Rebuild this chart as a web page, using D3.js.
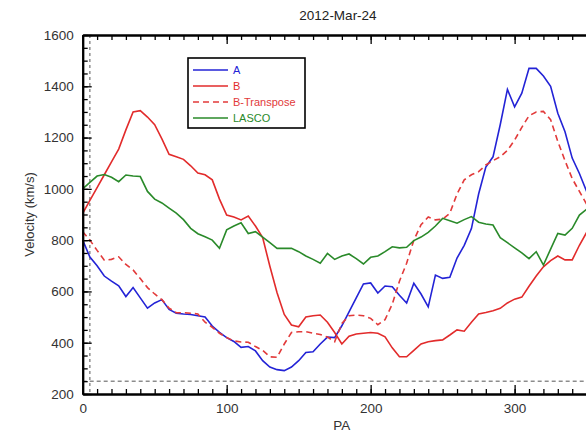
<!DOCTYPE html>
<html>
<head>
<meta charset="utf-8">
<script src="https://cdn.jsdelivr.net/npm/d3@7"></script>
<style>
body { margin: 0; background: #fff; }
svg { font-family: "Liberation Sans", Arial, sans-serif; }
</style>
</head>
<body>
<div id="chart"></div>
<script>
var _width = 586;
var _height = 435;

var title = "2012-Mar-24";
var pa = d3.range(0, 361, 5);

var seriesA = [800, 734, 700, 660, 640, 622, 580, 615, 575, 535, 555, 568, 530, 515, 512, 510, 505, 500, 465, 440,
    420, 405, 382, 385, 368, 330, 305, 295, 291, 305, 330, 362, 365, 395, 422, 420, 466, 520, 575, 629,
    633, 594, 621, 618, 585, 555, 632, 590, 540, 664, 651, 655, 730, 780, 845, 980, 1085, 1125, 1250, 1388,
    1320, 1373, 1470, 1470, 1440, 1400, 1295, 1223, 1120, 1060, 990, 950, 900];
var seriesB = [904, 955, 1005, 1055, 1105, 1155, 1230, 1300, 1305, 1280, 1250, 1195, 1135, 1125, 1115, 1090, 1062, 1055, 1035, 960,
    898, 890, 879, 894, 855, 810, 698, 595, 510, 469, 462, 500, 505, 508, 480, 440, 395, 425, 434, 437,
    440, 437, 423, 380, 345, 345, 370, 395, 404, 408, 411, 430, 450, 445, 480, 512, 518, 525, 534, 555,
    570, 578, 620, 660, 696, 720, 738, 723, 723, 780, 830, 880, 920];
var seriesBT = [833, 800, 760, 722, 725, 735, 705, 684, 650, 615, 590, 568, 535, 517, 517, 515, 512, 480, 460, 437,
    420, 407, 403, 402, 385, 370, 345, 343, 395, 440, 443, 443, 437, 432, 422, 404, 475, 505, 508, 505,
    495, 470, 490, 550, 640, 710, 800, 860, 890, 879, 882, 905, 980, 1035, 1055, 1067, 1093, 1110, 1125, 1150,
    1190, 1240, 1285, 1300, 1302, 1270, 1185, 1110, 1040, 990, 940, 900, 870];
var seriesLasco = [1000, 1025, 1050, 1056, 1045, 1028, 1054, 1050, 1048, 990, 960, 945, 925, 905, 880, 846, 825, 813, 800, 768,
    840, 855, 868, 826, 833, 812, 790, 768, 768, 768, 755, 738, 725, 710, 748, 725, 738, 746, 728, 707,
    733, 738, 755, 774, 770, 772, 798, 812, 830, 855, 885, 876, 866, 880, 892, 870, 863, 859, 810, 790,
    770, 750, 728, 755, 703, 765, 826, 820, 846, 898, 920, 930, 940];

var names = ["A", "B", "B-Transpose", "LASCO"];
var colors = ["#2323d6", "#e22b2b", "#e23a3a", "#2a8a2a"];
var dashes = [null, null, "6,4", null];
var allSeries = [seriesA, seriesB, seriesBT, seriesLasco];

var xMajor = [0, 100, 200, 300];
var yMajor = [200, 400, 600, 800, 1000, 1200, 1400, 1600];
var paMark = 5;
var vMark = 250;

var pLeft = 82.7, pTop = 35, pBottom = 394, pRight = 601;

var x = d3.scaleLinear().domain([0, 360]).range([pLeft, pRight]);
var y = d3.scaleLinear().domain([200, 1600]).range([pBottom, pTop]);

var svg = d3.select("#chart").append("svg")
    .attr("width", _width)
    .attr("height", _height);

// reference lines
svg.append("line")
    .attr("x1", x(paMark)).attr("x2", x(paMark))
    .attr("y1", pTop).attr("y2", pBottom)
    .style("stroke", "#555").style("stroke-width", 1).style("stroke-dasharray", "3,3");
svg.append("line")
    .attr("x1", pLeft).attr("x2", pRight)
    .attr("y1", y(vMark)).attr("y2", y(vMark))
    .style("stroke", "#555").style("stroke-width", 1).style("stroke-dasharray", "4,3");

// data lines
var line = d3.line()
    .x(function (d, i) { return x(pa[i]); })
    .y(function (d) { return y(d); });

allSeries.forEach(function (s, i) {
    svg.append("path")
        .datum(s)
        .attr("d", line)
        .style("fill", "none")
        .style("stroke", colors[i])
        .style("stroke-width", 1.6)
        .style("stroke-dasharray", dashes[i]);
});

// axes, ticks pointing inward
function styleAxis(g) {
    g.select(".domain").style("stroke", "#000").style("stroke-width", 2);
    g.selectAll(".tick line").style("stroke", "#000").style("stroke-width", 1.3);
    g.selectAll("text").style("font-size", "13.5px").style("fill", "#333");
}

var bottomMinor = svg.append("g").attr("transform", "translate(0," + pBottom + ")")
    .call(d3.axisBottom(x).tickValues(d3.range(0, 361, 10)).tickSize(-5).tickFormat("").tickSizeOuter(0));
styleAxis(bottomMinor);
var bottomMajor = svg.append("g").attr("transform", "translate(0," + pBottom + ")")
    .call(d3.axisBottom(x).tickValues(xMajor).tickSize(-9).tickPadding(9).tickFormat(d3.format("d")).tickSizeOuter(0));
styleAxis(bottomMajor);

var topMinor = svg.append("g").attr("transform", "translate(0," + pTop + ")")
    .call(d3.axisTop(x).tickValues(d3.range(0, 361, 10)).tickSize(-5).tickFormat("").tickSizeOuter(0));
styleAxis(topMinor);
var topMajor = svg.append("g").attr("transform", "translate(0," + pTop + ")")
    .call(d3.axisTop(x).tickValues(xMajor).tickSize(-9).tickFormat("").tickSizeOuter(0));
styleAxis(topMajor);

var leftMinor = svg.append("g").attr("transform", "translate(" + pLeft + ",0)")
    .call(d3.axisLeft(y).tickValues(d3.range(200, 1601, 50)).tickSize(-5).tickFormat("").tickSizeOuter(0));
styleAxis(leftMinor);
var leftMajor = svg.append("g").attr("transform", "translate(" + pLeft + ",0)")
    .call(d3.axisLeft(y).tickValues(yMajor).tickSize(-9).tickPadding(9).tickFormat(d3.format("d")).tickSizeOuter(0));
styleAxis(leftMajor);

// titles
svg.append("text")
    .attr("x", 338).attr("y", 20)
    .attr("text-anchor", "middle")
    .style("font-size", "13.5px").style("fill", "#222")
    .text(title);

svg.append("text")
    .attr("x", x(180)).attr("y", 430)
    .attr("text-anchor", "middle")
    .style("font-size", "13.5px").style("fill", "#333")
    .text("PA");

svg.append("text")
    .attr("transform", "translate(34," + ((pTop + pBottom) / 2) + ") rotate(-90)")
    .attr("text-anchor", "middle")
    .style("font-size", "13px").style("fill", "#333")
    .text("Velocity (km/s)");

// legend
var lg = svg.append("g");
lg.append("rect")
    .attr("x", 188).attr("y", 58).attr("width", 117).attr("height", 70)
    .style("fill", "#fff").style("stroke", "#000").style("stroke-width", 1.6);

names.forEach(function (n, i) {
    var ly = 70 + i * 16;
    lg.append("line")
        .attr("x1", 193).attr("x2", 228)
        .attr("y1", ly).attr("y2", ly)
        .style("stroke", colors[i]).style("stroke-width", 1.6)
        .style("stroke-dasharray", dashes[i]);
    lg.append("text")
        .attr("x", 233).attr("y", ly + 4)
        .style("font-size", "11px").style("fill", colors[i])
        .text(n);
});
</script>
</body>
</html>
